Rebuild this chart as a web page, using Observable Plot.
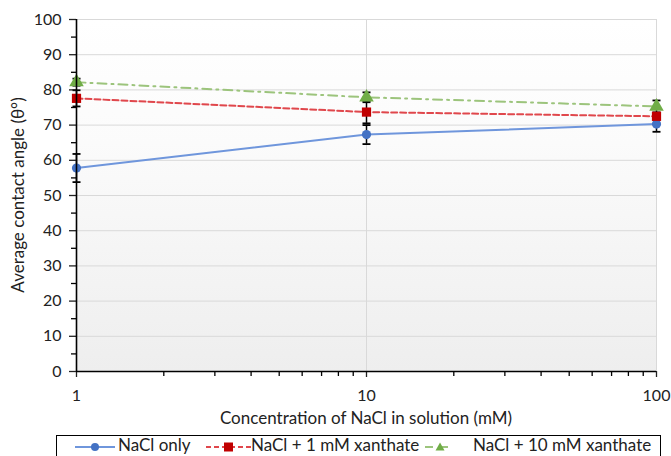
<!DOCTYPE html>
<html><head>
<meta charset="utf-8">
<script src="https://cdn.jsdelivr.net/npm/d3@7"></script>
<script src="https://cdn.jsdelivr.net/npm/@observablehq/plot@0.6"></script>
<style>
body{margin:0;background:#fff;font-family:Lato,sans-serif;overflow:hidden;}
#chart{position:absolute;left:0;top:0;}
#legend{position:absolute;left:56px;top:435px;width:605px;height:24px;border:1px solid #000;box-sizing:border-box;background:#fff;}
#legend svg{position:absolute;top:0;}
#legend span{position:absolute;top:-1px;font-size:17px;line-height:20px;color:#222;white-space:nowrap;}
</style></head><body>
<div id="chart"></div>
<div id="legend"></div>
<script>
const concentrations = [1, 10, 100];
const naclOnly = [57.8, 67.3, 70.3];
const naclOnlyErr = [4.0, 2.7, 2.2];
const xan1 = [77.6, 73.7, 72.5];
const xan1Err = [2.3, 3.2, 1.0];
const xan10 = [82.2, 77.9, 75.3];
const xan10Err = [1.0, 1.4, 1.7];
const seriesNames = ["NaCl only", "NaCl + 1 mM xanthate", "NaCl + 10 mM xanthate"];
const yTicks = [0, 10, 20, 30, 40, 50, 60, 70, 80, 90, 100];
const yMinor = [5, 15, 25, 35, 45, 55, 65, 75, 85, 95];
const xTicks = [1, 10, 100];
const xMinor = [2, 3, 4, 5, 6, 7, 8, 9, 20, 30, 40, 50, 60, 70, 80, 90];

const styles = [
  {line: "#6f96dc", marker: "#4472C4", dash: null, symbol: "circle", r: 4.6},
  {line: "#e0474c", marker: "#C00000", dash: "6,3", symbol: "square", r: 5.2},
  {line: "#9cc47c", marker: "#70AD47", dash: "9,5,2,5", symbol: "triangle", r: 5.4}
];
const valuesArr = [naclOnly, xan1, xan10];
const errArr = [naclOnlyErr, xan1Err, xan10Err];
const rows = [];
seriesNames.forEach((s, i) => concentrations.forEach((c, j) => rows.push({series: s, si: i, x: c, y: valuesArr[i][j], e: errArr[i][j]})));

const capSymbol = {draw(ctx) { ctx.moveTo(-4, 0); ctx.lineTo(4, 0); }};

const marks = [
  Plot.frame({fill: "url(#bg)", stroke: null}),
  Plot.ruleY(yTicks.filter(d => d > 0), {stroke: "#d9d9d9", strokeWidth: 1}),
  Plot.ruleX([10, 100], {stroke: "#d9d9d9", strokeWidth: 1}),
];
styles.forEach((st, i) => {
  const d = rows.filter(r => r.si === i);
  marks.push(Plot.line(d, {x: "x", y: "y", stroke: st.line, strokeWidth: 2, strokeDasharray: st.dash}));
});
marks.push(Plot.ruleX(rows, {x: "x", y1: d => d.y - d.e, y2: d => d.y + d.e, stroke: "#000", strokeWidth: 1.5}));
marks.push(Plot.dot(rows, {x: "x", y: d => d.y - d.e, symbol: capSymbol, stroke: "#000", strokeWidth: 1.8, fill: "none"}));
marks.push(Plot.dot(rows, {x: "x", y: d => d.y + d.e, symbol: capSymbol, stroke: "#000", strokeWidth: 1.8, fill: "none"}));
styles.forEach((st, i) => {
  const d = rows.filter(r => r.si === i);
  marks.push(Plot.dot(d, {x: "x", y: "y", symbol: st.symbol, r: st.r, fill: st.marker, stroke: null}));
});
marks.push(Plot.axisY(yTicks, {tickSize: 7, tickPadding: 8, tickFormat: d => d, fontSize: 16, label: null, color: "#222", strokeWidth: 1.3}));
marks.push(Plot.axisY(yMinor, {tickSize: 5, text: null, label: null, strokeWidth: 1.3}));
marks.push(Plot.axisX(xTicks, {tickSize: 6, tickPadding: 12, tickFormat: d => String(d), fontSize: 16, label: null, color: "#222", strokeWidth: 1.3}));
marks.push(Plot.axisX(xMinor, {tickSize: 5, text: null, label: null, strokeWidth: 1.3}));
marks.push(Plot.ruleX([1], {stroke: "#000", strokeWidth: 1.6}));
marks.push(Plot.ruleY([0], {stroke: "#000", strokeWidth: 1.6}));

const plot = Plot.plot({
  width: 671,
  height: 435,
  marginLeft: 76,
  marginRight: 15,
  marginTop: 19,
  marginBottom: 64,
  style: {fontFamily: "Lato, sans-serif", fontSize: "16px", background: "transparent", overflow: "visible"},
  x: {type: "log", domain: [1, 100]},
  y: {domain: [0, 100]},
  marks
});
const svg = d3.select(plot);
const defs = svg.insert("defs", ":first-child");
const g = defs.append("linearGradient").attr("id", "bg").attr("x1", 0).attr("y1", 0).attr("x2", 0).attr("y2", 1);
g.append("stop").attr("offset", "0%").attr("stop-color", "#ffffff");
g.append("stop").attr("offset", "35%").attr("stop-color", "#fbfbfb");
g.append("stop").attr("offset", "100%").attr("stop-color", "#eeeeee");
svg.append("text").attr("x", (76 + 656) / 2).attr("y", 424).attr("text-anchor", "middle")
  .attr("font-size", 17).attr("fill", "#222").text("Concentration of NaCl in solution (mM)");
svg.append("text").attr("transform", "translate(24," + ((19 + 371) / 2) + ") rotate(-90)").attr("text-anchor", "middle")
  .attr("font-size", 17).attr("fill", "#222").text("Average contact angle (θ°)");
document.getElementById("chart").appendChild(plot);

const legend = d3.select("#legend");
const items = [
  {lx: 18, lw: 40, tx: 61},
  {lx: 149, lw: 45, tx: 194},
  {lx: 368, lw: 30, tx: 416}
];
items.forEach((it, i) => {
  const st = styles[i];
  const s = legend.append("svg").attr("width", it.lw).attr("height", 22).style("left", it.lx + "px");
  const ym = 11;
  s.append("line").attr("x1", 0).attr("x2", it.lw).attr("y1", ym).attr("y2", ym)
    .attr("stroke", st.line).attr("stroke-width", 2).attr("stroke-dasharray", i === 0 ? null : (i === 1 ? "5,3" : "8,7"));
  const cx = it.lw / 2;
  if (i === 0) s.append("circle").attr("cx", cx).attr("cy", ym).attr("r", 4).attr("fill", st.marker);
  if (i === 1) s.append("rect").attr("x", cx - 4.5).attr("y", ym - 4.5).attr("width", 9).attr("height", 9).attr("fill", st.marker);
  if (i === 2) s.append("path").attr("d", `M${cx},${ym - 4.5}L${cx + 4.5},${ym + 3.5}L${cx - 4.5},${ym + 3.5}Z`).attr("fill", st.marker);
  legend.append("span").style("left", it.tx + "px").text(seriesNames[i]);
});
</script>
</body></html>
